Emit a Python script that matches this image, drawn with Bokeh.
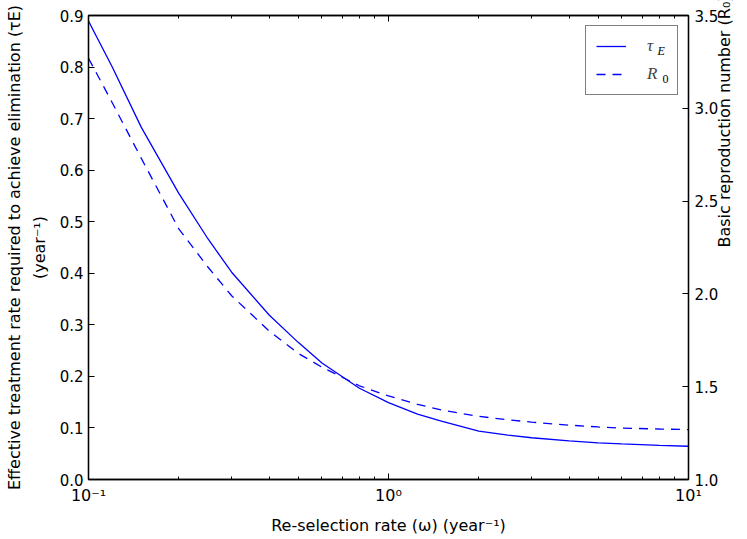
import math
from bokeh.plotting import figure
from bokeh.models import (Range1d, LinearAxis, LogAxis, FixedTicker, PrintfTickFormatter,
                          Label, Legend, LegendItem)
from bokeh.embed import file_html
from bokeh.resources import INLINE

# ---- data ----
omega = [0.1, 0.12, 0.15, 0.2, 0.25, 0.3, 0.4, 0.5, 0.6, 0.8, 1.0,
         1.25, 1.5, 2.0, 2.5, 3.0, 4.0, 5.0, 6.0, 8.0, 10.0]
tau_E = [0.889, 0.800, 0.683, 0.555, 0.467, 0.402, 0.319, 0.266, 0.226, 0.177, 0.149,
         0.127, 0.113, 0.094, 0.086, 0.081, 0.075, 0.071, 0.069, 0.066, 0.0645]
R0 = [3.27, 3.03, 2.73, 2.35, 2.145, 1.99, 1.80, 1.68, 1.605, 1.505, 1.45,
      1.405, 1.375, 1.34, 1.322, 1.309, 1.293, 1.283, 1.277, 1.272, 1.269]

x_major = [0.1, 1.0, 10.0]
x_major_labels = {0.1: "10\u207b\u00b9", 1.0: "10\u2070", 10.0: "10\u00b9"}
x_minor = [m * 10.0 ** e for e in (-1, 0) for m in range(2, 10)]
tau_ticks = [0.0, 0.1, 0.2, 0.3, 0.4, 0.5, 0.6, 0.7, 0.8, 0.9]
r0_ticks = [1.0, 1.5, 2.0, 2.5, 3.0, 3.5]

x_label = "Re-selection rate (\u03c9) (year\u207b\u00b9)"
y_label = "Effective treatment rate required to achieve elimination (\u03c4E)\n(year\u207b\u00b9)"
r_label = "Basic reproduction number (R\u2080)"

W, H = 747, 537
FL, FR, FT, FB = 88, 688, 15, 480   # frame edges on the page
FONT = "DejaVu Sans"
MATH = "Liberation Serif"

p = figure(width=W, height=H, x_axis_type="log", x_range=Range1d(0.1, 10),
           y_range=Range1d(0.0, 0.9), output_backend="svg", toolbar_location=None,
           min_border_left=FL, min_border_right=W - FR, min_border_top=FT,
           min_border_bottom=H - FB)
p.extra_y_ranges = {"r0": Range1d(1.0, 3.5)}
p.xgrid.visible = False
p.ygrid.visible = False
p.outline_line_color = "black"
p.outline_line_width = 1.3
p.background_fill_color = "white"
p.border_fill_color = "white"


def style_axis(ax):
    ax.axis_line_color = "black"
    ax.axis_line_width = 1.3
    ax.major_tick_in = 6
    ax.major_tick_out = 0
    ax.minor_tick_in = 3
    ax.minor_tick_out = 0
    ax.major_tick_line_color = "black"
    ax.minor_tick_line_color = "black"
    ax.major_label_text_font = FONT
    ax.major_label_text_font_size = "15px"
    ax.major_label_text_color = "black"
    ax.axis_label_text_font = FONT
    ax.axis_label_text_font_size = "16px"
    ax.axis_label_text_font_style = "normal"
    ax.axis_label_text_color = "black"


xax = p.xaxis[0]
xax.ticker = FixedTicker(ticks=x_major, minor_ticks=x_minor)
xax.major_label_overrides = x_major_labels
style_axis(xax)
xax.major_label_text_font_size = "16px"
xax.major_label_standoff = 6
xax.axis_label = x_label
xax.axis_label_standoff = 8

yax = p.yaxis[0]
yax.ticker = FixedTicker(ticks=tau_ticks)
yax.formatter = PrintfTickFormatter(format="%.1f")
style_axis(yax)
yax.major_label_standoff = 5
yax.minor_tick_in = 0
yax.axis_label = y_label
yax.axis_label_standoff = 8
yax.axis_label_text_line_height = 1.3

rax = LinearAxis(y_range_name="r0", ticker=FixedTicker(ticks=r0_ticks),
                 formatter=PrintfTickFormatter(format="%.1f"))
style_axis(rax)
rax.minor_tick_in = 0
rax.major_label_standoff = 6
rax.axis_label = r_label
rax.axis_label_standoff = 3
rax.axis_label_orientation = math.pi / 2
rax.axis_label_text_align = "center"
rax.axis_label_text_baseline = "middle"
p.add_layout(rax, "right")

tax = LogAxis(ticker=FixedTicker(ticks=x_major, minor_ticks=x_minor))
style_axis(tax)
tax.major_label_text_font_size = "1px"
tax.major_label_text_alpha = 0.0
tax.major_label_standoff = 0
p.add_layout(tax, "above")

l1 = p.line(omega, tau_E, line_color="#0000ff", line_width=1.3)
l2 = p.line(omega, R0, line_color="#0000ff", line_width=1.3, line_dash="9 7",
            y_range_name="r0")

legend = Legend(items=[LegendItem(label="\u03c4\u00a0\u00a0", renderers=[l1]),
                       LegendItem(label="R\u00a0\u00a0", renderers=[l2])],
                location="top_right", margin=10, padding=10, spacing=8,
                glyph_width=30, glyph_height=18, label_height=18,
                label_standoff=21, border_line_color="black", border_line_width=1,
                label_text_font=MATH, label_text_font_style="italic",
                label_text_font_size="17px", background_fill_alpha=0.0)
p.add_layout(legend)


def put(px, py, text, size="12px", style="normal"):
    # screen units are measured from the frame's bottom-left corner
    p.add_layout(Label(x=px - FL, y=FB - py, x_units="screen", y_units="screen",
                       text=text, text_font=MATH, text_font_size=size,
                       text_font_style=style, text_align="left",
                       text_baseline="middle", text_color="black", level="overlay"))


# legend subscripts
put(657, 51, "E", style="italic")
put(662, 79, "0")

open("out.html", "w").write(file_html(p, INLINE))
